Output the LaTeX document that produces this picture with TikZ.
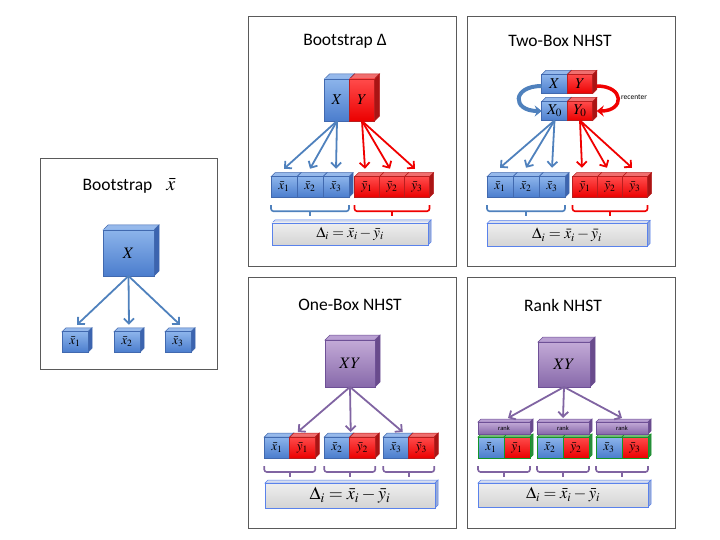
\documentclass[tikz,border=0pt]{standalone}
\usepackage{mathptmx}
\usepackage[no-math]{fontspec}
\setmainfont{Carlito}
\usetikzlibrary{arrows.meta, positioning, calc, backgrounds}

\definecolor{bxtop}{RGB}{140,180,235}
\definecolor{bxbot}{RGB}{75,125,205}
\definecolor{bxline}{RGB}{65,105,175}
\definecolor{bxside}{RGB}{60,100,175}
\definecolor{bxlite}{RGB}{150,185,235}
\definecolor{rdtop}{RGB}{255,75,75}
\definecolor{rdbot}{RGB}{235,0,0}
\definecolor{rdline}{RGB}{185,30,30}
\definecolor{rdside}{RGB}{170,20,20}
\definecolor{rdlite}{RGB}{240,110,110}
\definecolor{putop}{RGB}{195,170,215}
\definecolor{pubot}{RGB}{135,105,170}
\definecolor{puline}{RGB}{110,80,150}
\definecolor{puside}{RGB}{105,75,140}
\definecolor{pulite}{RGB}{185,160,210}
\definecolor{gytop}{RGB}{238,238,238}
\definecolor{gybot}{RGB}{212,212,212}
\definecolor{gyline}{RGB}{90,130,235}
\definecolor{gyside}{RGB}{150,170,215}
\definecolor{gylite}{RGB}{215,222,240}
\definecolor{grline}{RGB}{20,150,40}
\definecolor{grside}{RGB}{40,140,60}
\definecolor{grlite}{RGB}{120,190,120}
\definecolor{arblue}{RGB}{79,129,189}
\definecolor{arred}{RGB}{240,0,0}
\definecolor{arpurple}{RGB}{128,100,162}
\definecolor{framegray}{RGB}{90,90,90}

% side and top faces of a box, behind everything
\newcommand{\cubedepth}[3]{%
  \begin{pgfonlayer}{background}
  \filldraw[draw=#2line, fill=#2lite, line width=0.5pt] (#1.north west) -- ++(#3,-#3) -- ($(#1.north east)+(#3,-#3)$) -- (#1.north east) -- cycle;
  \filldraw[draw=#2line, fill=#2side, line width=0.5pt] (#1.north east) -- ++(#3,-#3) -- ($(#1.south east)+(#3,-#3)$) -- (#1.south east) -- cycle;
  \end{pgfonlayer}}

% bracket under a row of boxes
\newcommand{\brk}[3]{%
  \draw[#3, line width=1.6pt, rounded corners=2.5pt] ($(#1.south west)+(0,8)$) -- ++(0,6) -| ($(#2.south east)+(0,8)$);
  \draw[#3, line width=1.6pt] ($(#1.south west)!.5!(#2.south east)+(0,14)$) -- ++(0,5);}

\begin{document}
\begin{tikzpicture}[
						x=1pt, y=-1pt,
						cube/.style={draw=#1line, top color=#1top, bottom color=#1bot, inner sep=0pt, outer sep=0pt, line width=0.6pt},
						big/.style={minimum width=51pt, minimum height=46pt, font=\fontsize{16}{16}\selectfont},
						tall/.style={minimum width=25pt, minimum height=42pt, font=\fontsize{15}{15}\selectfont},
						flat/.style={minimum width=25.5pt, minimum height=19pt, font=\fontsize{15}{15}\selectfont},
						small/.style={minimum width=25.5pt, minimum height=20.5pt, font=\fontsize{13}{13}\selectfont},
						delta/.style={cube=gy, font=\fontsize{#1}{#1}\selectfont},
						title/.style={font=\fontsize{17.5}{17.5}\selectfont},
						frame/.style={draw=framegray, line width=0.9pt},
						arr/.style={draw=#1, line width=1.8pt, -{Straight Barb[length=5pt,width=10pt]}}
					]
\useasboundingbox (0,0) rectangle (720,540);

% Bootstrap xbar
\draw[frame] (40,158) rectangle (217,369);
\node[title] (tA) at (129,186) {Bootstrap\hspace{14pt}{\fontsize{20}{20}\selectfont$\bar{x}$}};
\node[cube=bx, big] (aX) at (128.5,253) {$X$};
\cubedepth{aX}{bx}{5}
\foreach \i/\x in {1/75,2/127,3/178} {
	\node[cube=bx, small, minimum width=26pt] (ax\i) at (\x,342) {$\bar{x}_\i$};
	\cubedepth{ax\i}{bx}{4}
	\draw[arr=arblue] (aX.south) -- ([xshift=2pt,yshift=7pt]ax\i.north);
}

% Bootstrap Delta
\draw[frame] (248,16) rectangle (456,266);
\node[title] (tB) at (345,41) {Bootstrap Δ};
\node[cube=bx, tall] (bX) at (337,100) {$X$};
\node[cube=rd, tall, right=0pt of bX] (bY) {$Y$};
\cubedepth{bX}{bx}{5}
\cubedepth{bY}{rd}{5}
\node[cube=bx, small, minimum width=26pt] (bx1) at (284,187) {$\bar{x}_1$};
\node[cube=bx, small, minimum width=26pt, right=0pt of bx1] (bx2) {$\bar{x}_2$};
\node[cube=bx, small, minimum width=26pt, right=0pt of bx2] (bx3) {$\bar{x}_3$};
\node[cube=rd, small, minimum width=25pt] (by1) at (367,187) {$\bar{y}_1$};
\node[cube=rd, small, minimum width=25pt, right=0pt of by1] (by2) {$\bar{y}_2$};
\node[cube=rd, small, minimum width=25pt, right=0pt of by2] (by3) {$\bar{y}_3$};
\foreach \i in {1,2,3} {
	\cubedepth{bx\i}{bx}{4}
	\cubedepth{by\i}{rd}{4}
	\draw[arr=arblue] (bX.south) -- ([yshift=8pt]bx\i.north);
	\draw[arr=arred] (bY.south) -- ([xshift=-2pt,yshift=8pt]by\i.north);
}
\brk{bx1}{bx3}{arblue}
\brk{by1}{by3}{arred}
\node[delta=15, minimum width=156pt, minimum height=22pt] (bD) at (350,234) {$\Delta_i = \bar{x}_i - \bar{y}_i$};
\cubedepth{bD}{gy}{3}

% Two-Box NHST
\draw[frame] (467,16) rectangle (675,266);
\node[title] (tC) at (560,41) {Two-Box NHST};
\node[cube=bx, flat] (cX) at (554.5,84) {$X$};
\node[cube=rd, flat, right=0pt of cX] (cY) {$Y$};
\node[cube=bx, flat] (cX0) at (554.5,111) {$X_0$};
\node[cube=rd, flat, right=0pt of cX0] (cY0) {$Y_0$};
\foreach \n/\c in {cX/bx,cY/rd,cX0/bx,cY0/rd} {\cubedepth{\n}{\c}{4}}
\draw[arblue, line width=4pt, -{Stealth[length=7pt,width=11pt]}] ([yshift=-2pt]cX.west) .. controls +(-30,0) and +(-30,0) .. (cX0.west);
\draw[arred, line width=3.5pt, -{Stealth[length=7pt,width=11pt]}] ([yshift=-2pt,xshift=4pt]cY.east) .. controls +(28,0) and +(28,0) .. ([xshift=4pt]cY0.east);
\node[font=\fontsize{7.5}{7.5}\selectfont] (rec) at (634,97) {recenter};
\node[cube=bx, small, minimum width=26pt] (cx1) at (500,187) {$\bar{x}_1$};
\node[cube=bx, small, minimum width=26pt, right=0pt of cx1] (cx2) {$\bar{x}_2$};
\node[cube=bx, small, minimum width=26pt, right=0pt of cx2] (cx3) {$\bar{x}_3$};
\node[cube=rd, small, minimum width=25pt] (cy1) at (585,187) {$\bar{y}_1$};
\node[cube=rd, small, minimum width=25pt, right=0pt of cy1] (cy2) {$\bar{y}_2$};
\node[cube=rd, small, minimum width=25pt, right=0pt of cy2] (cy3) {$\bar{y}_3$};
\foreach \i in {1,2,3} {
	\cubedepth{cx\i}{bx}{4}
	\cubedepth{cy\i}{rd}{4}
	\draw[arr=arblue] (cX0.south) -- ([yshift=9pt]cx\i.north);
	\draw[arr=arred] (cY0.south) -- ([xshift=-3pt,yshift=9pt]cy\i.north);
}
\brk{cx1}{cx3}{arblue}
\brk{cy1}{cy3}{arred}
\node[delta=15.5, minimum width=160pt, minimum height=23pt] (cD) at (567,235) {$\Delta_i = \bar{x}_i - \bar{y}_i$};
\cubedepth{cD}{gy}{3}

% One-Box NHST
\draw[frame] (248,277) rectangle (456,528);
\node[title] (tD) at (350,305) {One-Box NHST};
\node[cube=pu, big, minimum width=50pt, minimum height=47pt] (dXY) at (350,363.5) {$XY$};
\cubedepth{dXY}{pu}{5}
\foreach \i/\x/\s in {1/277/8,2/337/1,3/396/-6} {
	\node[cube=bx, small, minimum height=21pt] (dx\i) at (\x,447.5) {$\bar{x}_\i$};
	\node[cube=rd, small, minimum height=21pt, right=0pt of dx\i] (dy\i) {$\bar{y}_\i$};
	\cubedepth{dx\i}{bx}{4}
	\cubedepth{dy\i}{rd}{4}
	\draw[arr=arpurple] (dXY.south) -- ([xshift=\s pt,yshift=5pt]dx\i.north east);
	\brk{dx\i}{dy\i}{arpurple}
}
\node[delta=18, minimum width=170pt, minimum height=25pt] (dD) at (350,495.5) {$\Delta_i = \bar{x}_i - \bar{y}_i$};
\cubedepth{dD}{gy}{3}

% Rank NHST
\draw[frame] (467,277) rectangle (675,528);
\node[title] (tE) at (563,305) {Rank NHST};
\node[cube=pu, big, minimum width=52pt, minimum height=45pt] (eXY) at (564,364.5) {$XY$};
\cubedepth{eXY}{pu}{5}
\foreach \i/\x/\s in {1/504/4,2/563/0,3/622/0} {
	\node[cube=pu, minimum width=52pt, minimum height=12pt, font=\fontsize{6.5}{6.5}\selectfont] (er\i) at (\x,428) {rank};
	\cubedepth{er\i}{pu}{3}
	\node[cube=bx, small, draw=grline, minimum width=26pt, minimum height=21pt, anchor=west] (ex\i) at ($(er\i.west)+(0,19.5)$) {$\bar{x}_\i$};
	\node[cube=rd, small, draw=grline, minimum width=26pt, minimum height=21pt, right=0pt of ex\i] (ey\i) {$\bar{y}_\i$};
	\cubedepth{ex\i}{gr}{3}
	\cubedepth{ey\i}{gr}{3}
	\draw[arr=arpurple] (eXY.south) -- ([xshift=\s pt,yshift=4pt]er\i.north);
	\brk{ex\i}{ey\i}{arpurple}
}
\node[delta=16.5, minimum width=170pt, minimum height=24pt] (eD) at (563,495) {$\Delta_i = \bar{x}_i - \bar{y}_i$};
\cubedepth{eD}{gy}{3}
\end{tikzpicture}
\end{document}
